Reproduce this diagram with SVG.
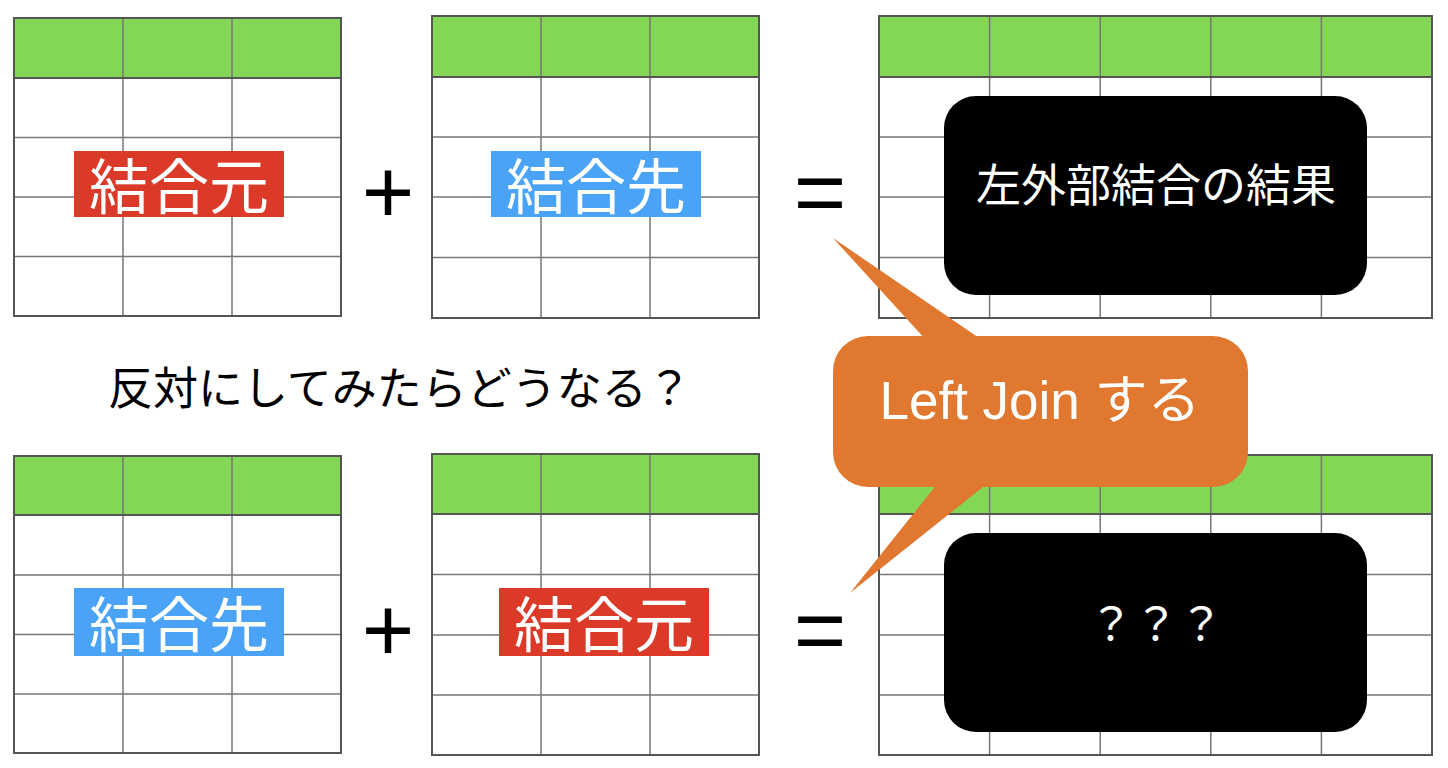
<svg xmlns="http://www.w3.org/2000/svg" width="1448" height="768" viewBox="0 0 1448 768">
<style>
.hdr{fill:#84D656}
.body{fill:#FFFFFF}
.grid{stroke:#777;stroke-width:1.5;fill:none}
.frame{stroke:#555;stroke-width:2;fill:none}
.lbl{font-family:"Noto Sans CJK JP","Liberation Sans",sans-serif;fill:#FFFFFF;text-anchor:middle}
.op{font-family:"Liberation Sans",Arial,sans-serif;fill:#000;text-anchor:middle;font-size:90px}
.red{fill:#DB3A28}
.blue{fill:#4AA3F7}
.orange{fill:#E07830}
</style>
<rect width="1448" height="768" fill="#FFFFFF"/>

<!-- Top row -->
<g id="table-top-1">
  <rect class="body" x="14" y="18" width="327" height="298"/>
  <rect class="hdr" x="14" y="18" width="327" height="60"/>
  <path class="grid" d="M14 137.5H341M14 197H341M14 256.5H341M123 18V316M232 18V316"/>
  <path class="frame" d="M14 78H341"/>
  <rect class="frame" x="14" y="18" width="327" height="298"/>
</g>
<g id="table-top-2">
  <rect class="body" x="432" y="16" width="327" height="302"/>
  <rect class="hdr" x="432" y="16" width="327" height="61"/>
  <path class="grid" d="M432 137H759M432 197H759M432 257.5H759M541 16V318M650 16V318"/>
  <path class="frame" d="M432 77H759"/>
  <rect class="frame" x="432" y="16" width="327" height="302"/>
</g>
<g id="table-top-3">
  <rect class="body" x="879" y="16" width="553" height="302"/>
  <rect class="hdr" x="879" y="16" width="553" height="61"/>
  <path class="grid" d="M879 137H1432M879 197H1432M879 257.5H1432M989.6 16V318M1100.2 16V318M1210.8 16V318M1321.4 16V318"/>
  <path class="frame" d="M879 77H1432"/>
  <rect class="frame" x="879" y="16" width="553" height="302"/>
</g>

<g id="label-top-source">
  <rect class="red" x="74" y="151" width="210" height="66"/>
  <text class="lbl" x="179" y="209" font-size="60">結合元</text>
</g>
<g id="label-top-target">
  <rect class="blue" x="491" y="151" width="210" height="66"/>
  <text class="lbl" x="596" y="209" font-size="60">結合先</text>
</g>
<text id="plus-top" class="op" x="388" y="223">+</text>
<text id="equals-top" class="op" x="820" y="223">=</text>

<g id="result-top">
  <rect x="944" y="96" width="423" height="199" rx="32" ry="32" fill="#000"/>
  <text class="lbl" x="1156" y="202" font-size="45">左外部結合の結果</text>
</g>

<!-- Question -->
<text id="question" x="108" y="405" font-family="Noto Sans CJK JP, Liberation Sans, sans-serif" font-size="45" fill="#000">反対にしてみたらどうなる？</text>

<!-- Bottom row -->
<g id="table-bottom-1">
  <rect class="body" x="14" y="456" width="327" height="297"/>
  <rect class="hdr" x="14" y="456" width="327" height="59"/>
  <path class="grid" d="M14 575H341M14 634.5H341M14 694H341M123 456V753M232 456V753"/>
  <path class="frame" d="M14 515H341"/>
  <rect class="frame" x="14" y="456" width="327" height="297"/>
</g>
<g id="table-bottom-2">
  <rect class="body" x="432" y="454" width="327" height="301"/>
  <rect class="hdr" x="432" y="454" width="327" height="60"/>
  <path class="grid" d="M432 574.5H759M432 635H759M432 695H759M541 454V755M650 454V755"/>
  <path class="frame" d="M432 514H759"/>
  <rect class="frame" x="432" y="454" width="327" height="301"/>
</g>
<g id="table-bottom-3">
  <rect class="body" x="879" y="455" width="553" height="300"/>
  <rect class="hdr" x="879" y="455" width="553" height="59"/>
  <path class="grid" d="M879 574.5H1432M879 635H1432M879 695H1432M989.6 455V755M1100.2 455V755M1210.8 455V755M1321.4 455V755"/>
  <path class="frame" d="M879 514H1432"/>
  <rect class="frame" x="879" y="455" width="553" height="300"/>
</g>

<g id="label-bottom-target">
  <rect class="blue" x="74" y="588" width="210" height="68"/>
  <text class="lbl" x="179" y="647" font-size="60">結合先</text>
</g>
<g id="label-bottom-source">
  <rect class="red" x="499" y="588" width="210" height="68"/>
  <text class="lbl" x="604" y="647" font-size="60">結合元</text>
</g>
<text id="plus-bottom" class="op" x="388" y="661">+</text>
<text id="equals-bottom" class="op" x="820" y="661">=</text>

<g id="result-bottom">
  <rect x="944" y="533" width="423" height="199" rx="32" ry="32" fill="#000"/>
  <text class="lbl" x="1156" y="641" font-size="45">？？？</text>
</g>

<!-- Callout -->
<g id="callout">
  <polygon class="orange" points="833,238 982,340 926,340"/>
  <polygon class="orange" points="850,593 938,483 988,483"/>
  <rect class="orange" x="833" y="336" width="415" height="151" rx="35" ry="35"/>
  <text x="1040" y="419" font-family="Liberation Sans, Noto Sans CJK JP, sans-serif" font-size="53" fill="#FFFFFF" text-anchor="middle">Left Join する</text>
</g>
<g id="connectors"></g>
</svg>
